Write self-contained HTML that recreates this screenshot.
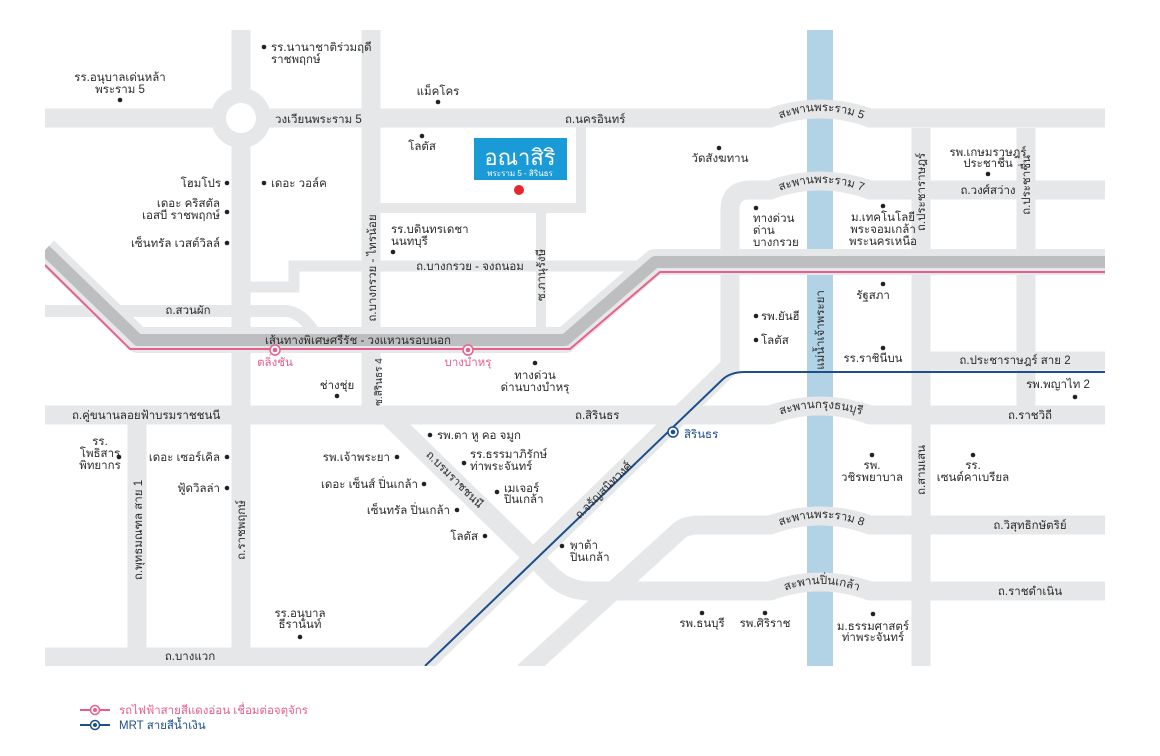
<!DOCTYPE html>
<html><head><meta charset="utf-8"><style>
html,body{margin:0;padding:0;background:#fff;}
svg{display:block;}
text{font-family:"Liberation Sans","DejaVu Sans","Noto Sans CJK SC",sans-serif;font-size:11.5px;fill:#2b2b2b;}
.c{text-anchor:middle}.r{text-anchor:end}
.pk{fill:#e8608a}.bl{fill:#1d4f8c}
</style></head><body>
<svg width="1160" height="756" viewBox="0 0 1160 756" xmlns="http://www.w3.org/2000/svg">
<defs>
<clipPath id="m"><rect x="45" y="30" width="1060" height="636"/></clipPath>
<path id="b5" d="M775,121 Q820,101 868,121"/>
<path id="b7" d="M775,193 Q820,173 868,193"/>
<path id="bk" d="M772,418 Q820,398 870,418"/>
<path id="b8" d="M775,528 Q820,508 868,528"/>
<path id="bp" d="M778,594 Q820,574 866,594"/>
</defs>
<g clip-path="url(#m)">
<rect x="807" y="30" width="26" height="636" fill="#b2d2e5"/>
<g fill="none" stroke="#e6e7e8" stroke-width="19">
<path d="M45,118 L770,118 Q820,100 870,118 L1105,118"/>
<path d="M241,30 L241,666"/>
<path d="M371,30 L371,415"/>
<path d="M730,372 L730,210 Q730,190 750,190 L770,190 Q820,172 870,190 L1105,190"/>
<path d="M45,415 L770,415 Q820,397 870,415 L1105,415"/>
<path d="M416,672 L730,366"/>
<path d="M524,672 L680,530 Q687,525 700,525 L770,525 Q820,507 870,525 L1105,525"/>
<path d="M384,412 L548,572 Q565,591 590,591 L770,591 Q820,573 870,591 L1105,591"/>
<path d="M921,128 L921,666"/>
<path d="M1026,128 L1026,406"/>
<path d="M921,361 L1105,361"/>
<path d="M137,415 L137,648"/>
<path d="M45,657 L430,657"/>
</g>
<g fill="none" stroke="#e6e7e8">
<path d="M372,208 L581,208 L581,118" stroke-width="10"/>
<path d="M541,208 L541,340" stroke-width="10"/>
<path d="M241,287 L294,287 L294,266 L660,266" stroke-width="11"/>
<path d="M45,311 L285,311 Q302,311 318,338" stroke-width="12"/>
</g>
<circle cx="241" cy="118" r="30" fill="#e6e7e8"/>
<circle cx="241" cy="118" r="15" fill="#fff"/>
<path d="M45,250 L138,340 L565,340 L655,262 L1105,262" fill="none" stroke="#e6e7e8" stroke-width="26" stroke-linejoin="round"/>
<path d="M45,250 L138,340 L565,340 L655,262 L1105,262" fill="none" stroke="#bdbec0" stroke-width="12" stroke-linejoin="round"/>
<path d="M45,265 L130,349 L570,349 L660,272 L1105,272" fill="none" stroke="#e8608a" stroke-width="2"/>
<path d="M425,666 L722,380 Q730,372 745,372 L1105,372" fill="none" stroke="#1d4f8c" stroke-width="2"/>
</g>
<g fill="#fff" stroke="#e8608a" stroke-width="1.5"><circle cx="275" cy="350" r="5"/><circle cx="468" cy="350" r="5"/></g>
<g fill="#e8608a"><circle cx="275" cy="350" r="2.3"/><circle cx="468" cy="350" r="2.3"/></g>
<circle cx="673" cy="432" r="5" fill="#fff" stroke="#1d4f8c" stroke-width="1.5"/><circle cx="673" cy="432" r="2.3" fill="#1d4f8c"/>
<rect x="474" y="138" width="93" height="42" fill="#1a9ad6"/>
<text x="520" y="165" class="c" style="fill:#fff;font-size:22px">อณาสิริ</text>
<text x="520" y="176" class="c" style="fill:#fff;font-size:8px">พระราม 5 - สิรินธร</text>
<circle cx="519" cy="190" r="5" fill="#e8262b"/>
<g fill="#222">
<circle cx="264" cy="47" r="2.3"/><circle cx="120" cy="100" r="2.3"/><circle cx="438" cy="102" r="2.3"/><circle cx="422" cy="136" r="2.3"/>
<circle cx="719" cy="148" r="2.3"/><circle cx="988" cy="174" r="2.3"/><circle cx="227" cy="183" r="2.3"/><circle cx="264" cy="183" r="2.3"/>
<circle cx="227" cy="212" r="2.3"/><circle cx="227" cy="243" r="2.3"/><circle cx="393" cy="252" r="2.3"/><circle cx="756" cy="208" r="2.3"/>
<circle cx="883" cy="206" r="2.3"/><circle cx="883" cy="284" r="2.3"/><circle cx="756" cy="316" r="2.3"/><circle cx="756" cy="340" r="2.3"/>
<circle cx="883" cy="348" r="2.3"/><circle cx="1075" cy="397" r="2.3"/><circle cx="535" cy="363" r="2.3"/><circle cx="337" cy="396" r="2.3"/>
<circle cx="430" cy="435" r="2.3"/><circle cx="119" cy="457" r="2.3"/><circle cx="227" cy="457" r="2.3"/><circle cx="397" cy="457" r="2.3"/>
<circle cx="464" cy="463" r="2.3"/><circle cx="227" cy="488" r="2.3"/><circle cx="424" cy="484" r="2.3"/><circle cx="497" cy="492" r="2.3"/>
<circle cx="872" cy="455" r="2.3"/><circle cx="973" cy="455" r="2.3"/><circle cx="457" cy="510" r="2.3"/><circle cx="485" cy="536" r="2.3"/>
<circle cx="562" cy="546" r="2.3"/><circle cx="702" cy="613" r="2.3"/><circle cx="765" cy="613" r="2.3"/><circle cx="873" cy="614" r="2.3"/><circle cx="300" cy="637" r="2.3"/>
</g>
<text x="271" y="51">รร.นานาชาติร่วมฤดี</text><text x="271" y="63">ราชพฤกษ์</text>
<text x="120" y="81" class="c">รร.อนุบาลเด่นหล้า</text><text x="120" y="93" class="c">พระราม 5</text>
<text x="438" y="95" class="c">แม็คโคร</text>
<text x="275" y="123">วงเวียนพระราม 5</text>
<text x="565" y="123">ถ.นครอินทร์</text>
<text x="422" y="150" class="c">โลตัส</text>
<text x="720" y="162" class="c">วัดสังฆทาน</text>
<text x="988" y="156" class="c">รพ.เกษมราษฎร์</text><text x="988" y="167" class="c">ประชาชื่น</text>
<text x="988" y="194" class="c">ถ.วงศ์สว่าง</text>
<text x="925" y="192" class="c" transform="rotate(-90 925 192)">ถ.ประชาราษฎร์</text>
<text x="1030" y="185" class="c" transform="rotate(-90 1030 185)">ถ.ประชาชื่น</text>
<text x="221" y="187" class="r">โฮมโปร</text>
<text x="271" y="187">เดอะ วอล์ค</text>
<text x="220" y="207" class="r">เดอะ คริสตัล</text><text x="220" y="219" class="r">เอสบี ราชพฤกษ์</text>
<text x="220" y="247" class="r">เซ็นทรัล เวสต์วิลล์</text>
<text x="391" y="233">รร.บดินทรเดชา</text><text x="391" y="245">นนทบุรี</text>
<text x="470" y="270" class="c">ถ.บางกรวย - จงถนอม</text>
<text x="376" y="268" class="c" transform="rotate(-90 376 268)">ถ.บางกรวย - ไทรน้อย</text>
<text x="545" y="275" class="c" transform="rotate(-90 545 275)">ซ.ภานุรังษี</text>
<text x="188" y="314" class="c">ถ.สวนผัก</text>
<text x="358" y="344" class="c">เส้นทางพิเศษศรีรัช - วงแหวนรอบนอก</text>
<text x="753" y="222">ทางด่วน</text><text x="753" y="234">ด่าน</text><text x="753" y="246">บางกรวย</text>
<text x="883" y="221" class="c">ม.เทคโนโลยี</text><text x="883" y="233" class="c">พระจอมเกล้า</text><text x="883" y="245" class="c">พระนครเหนือ</text>
<text x="873" y="299" class="c">รัฐสภา</text>
<text x="761" y="320">รพ.ยันฮี</text><text x="761" y="344">โลตัส</text>
<text x="824" y="330" class="c" transform="rotate(-90 824 330)">แม่น้ำเจ้าพระยา</text>
<text x="873" y="362" class="c">รร.ราชินีบน</text>
<text x="1015" y="364" class="c">ถ.ประชาราษฎร์ สาย 2</text>
<text x="1058" y="388" class="c">รพ.พญาไท 2</text>
<text x="275" y="366" class="c pk">ตลิ่งชัน</text><text x="468" y="366" class="c pk">บางบำหรุ</text>
<text x="535" y="379" class="c">ทางด่วน</text><text x="535" y="391" class="c">ด่านบางบำหรุ</text>
<text x="337" y="389" class="c">ช่างชุ่ย</text>
<text x="382" y="382" class="c" transform="rotate(-90 382 382)" style="font-size:10px">ซ.สิรินธร 4</text>
<text x="72" y="419">ถ.คู่ขนานลอยฟ้าบรมราชชนนี</text>
<text x="575" y="419">ถ.สิรินธร</text>
<text x="1030" y="419" class="c">ถ.ราชวิถี</text>
<text x="684" y="438" class="bl">สิรินธร</text>
<text x="437" y="439">รพ.ตา หู คอ จมูก</text>
<text x="100" y="445" class="c">รร.</text><text x="100" y="457" class="c">โพธิสาร</text><text x="100" y="469" class="c">พิทยากร</text>
<text x="220" y="461" class="r">เดอะ เซอร์เคิล</text>
<text x="390" y="461" class="r">รพ.เจ้าพระยา</text>
<text x="470" y="458">รร.ธรรมาภิรักษ์</text><text x="470" y="470">ท่าพระจันทร์</text>
<text x="452" y="482" class="c" transform="rotate(45 452 482)">ถ.บรมราชชนนี</text>
<text x="220" y="492" class="r">ฟู้ดวิลล่า</text>
<text x="418" y="488" class="r">เดอะ เซ็นส์ ปิ่นเกล้า</text>
<text x="504" y="492">เมเจอร์</text><text x="504" y="503">ปิ่นเกล้า</text>
<text x="606" y="493" class="c" transform="rotate(-45 606 493)">ถ.จรัญสนิทวงศ์</text>
<text x="872" y="469" class="c">รพ.</text><text x="872" y="481" class="c">วชิรพยาบาล</text>
<text x="925" y="470" class="c" transform="rotate(-90 925 470)">ถ.สามเสน</text>
<text x="973" y="469" class="c">รร.</text><text x="973" y="481" class="c">เซนต์คาเบรียล</text>
<text x="450" y="514" class="r">เซ็นทรัล ปิ่นเกล้า</text>
<text x="142" y="530" class="c" transform="rotate(-90 142 530)">ถ.พุทธมณฑล สาย 1</text>
<text x="245" y="530" class="c" transform="rotate(-90 245 530)">ถ.ราชพฤกษ์</text>
<text x="1030" y="529" class="c">ถ.วิสุทธิกษัตริย์</text>
<text x="478" y="540" class="r">โลตัส</text>
<text x="570" y="549">พาต้า</text><text x="570" y="561">ปิ่นเกล้า</text>
<text x="1030" y="595" class="c">ถ.ราชดำเนิน</text>
<text x="702" y="627" class="c">รพ.ธนบุรี</text><text x="765" y="627" class="c">รพ.ศิริราช</text>
<text x="873" y="630" class="c">ม.ธรรมศาสตร์</text><text x="873" y="641" class="c">ท่าพระจันทร์</text>
<text x="300" y="617" class="c">รร.อนุบาล</text><text x="300" y="628" class="c">ธีรานันท์</text>
<text x="190" y="660" class="c">ถ.บางแวก</text>
<text><textPath href="#b5" startOffset="50%" text-anchor="middle">สะพานพระราม 5</textPath></text>
<text><textPath href="#b7" startOffset="50%" text-anchor="middle">สะพานพระราม 7</textPath></text>
<text><textPath href="#bk" startOffset="50%" text-anchor="middle">สะพานกรุงธนบุรี</textPath></text>
<text><textPath href="#b8" startOffset="50%" text-anchor="middle">สะพานพระราม 8</textPath></text>
<text><textPath href="#bp" startOffset="50%" text-anchor="middle">สะพานปิ่นเกล้า</textPath></text>
<line x1="80" y1="710" x2="110" y2="710" stroke="#e8608a" stroke-width="2"/>
<circle cx="95" cy="710" r="4.5" fill="#fff" stroke="#e8608a" stroke-width="1.5"/><circle cx="95" cy="710" r="2" fill="#e8608a"/>
<text x="119" y="714" class="pk">รถไฟฟ้าสายสีแดงอ่อน เชื่อมต่อจตุจักร</text>
<line x1="80" y1="725" x2="110" y2="725" stroke="#1d4f8c" stroke-width="2"/>
<circle cx="95" cy="725" r="4.5" fill="#fff" stroke="#1d4f8c" stroke-width="1.5"/><circle cx="95" cy="725" r="2" fill="#1d4f8c"/>
<text x="119" y="729" class="bl">MRT สายสีน้ำเงิน</text>
</svg>
</body></html>
